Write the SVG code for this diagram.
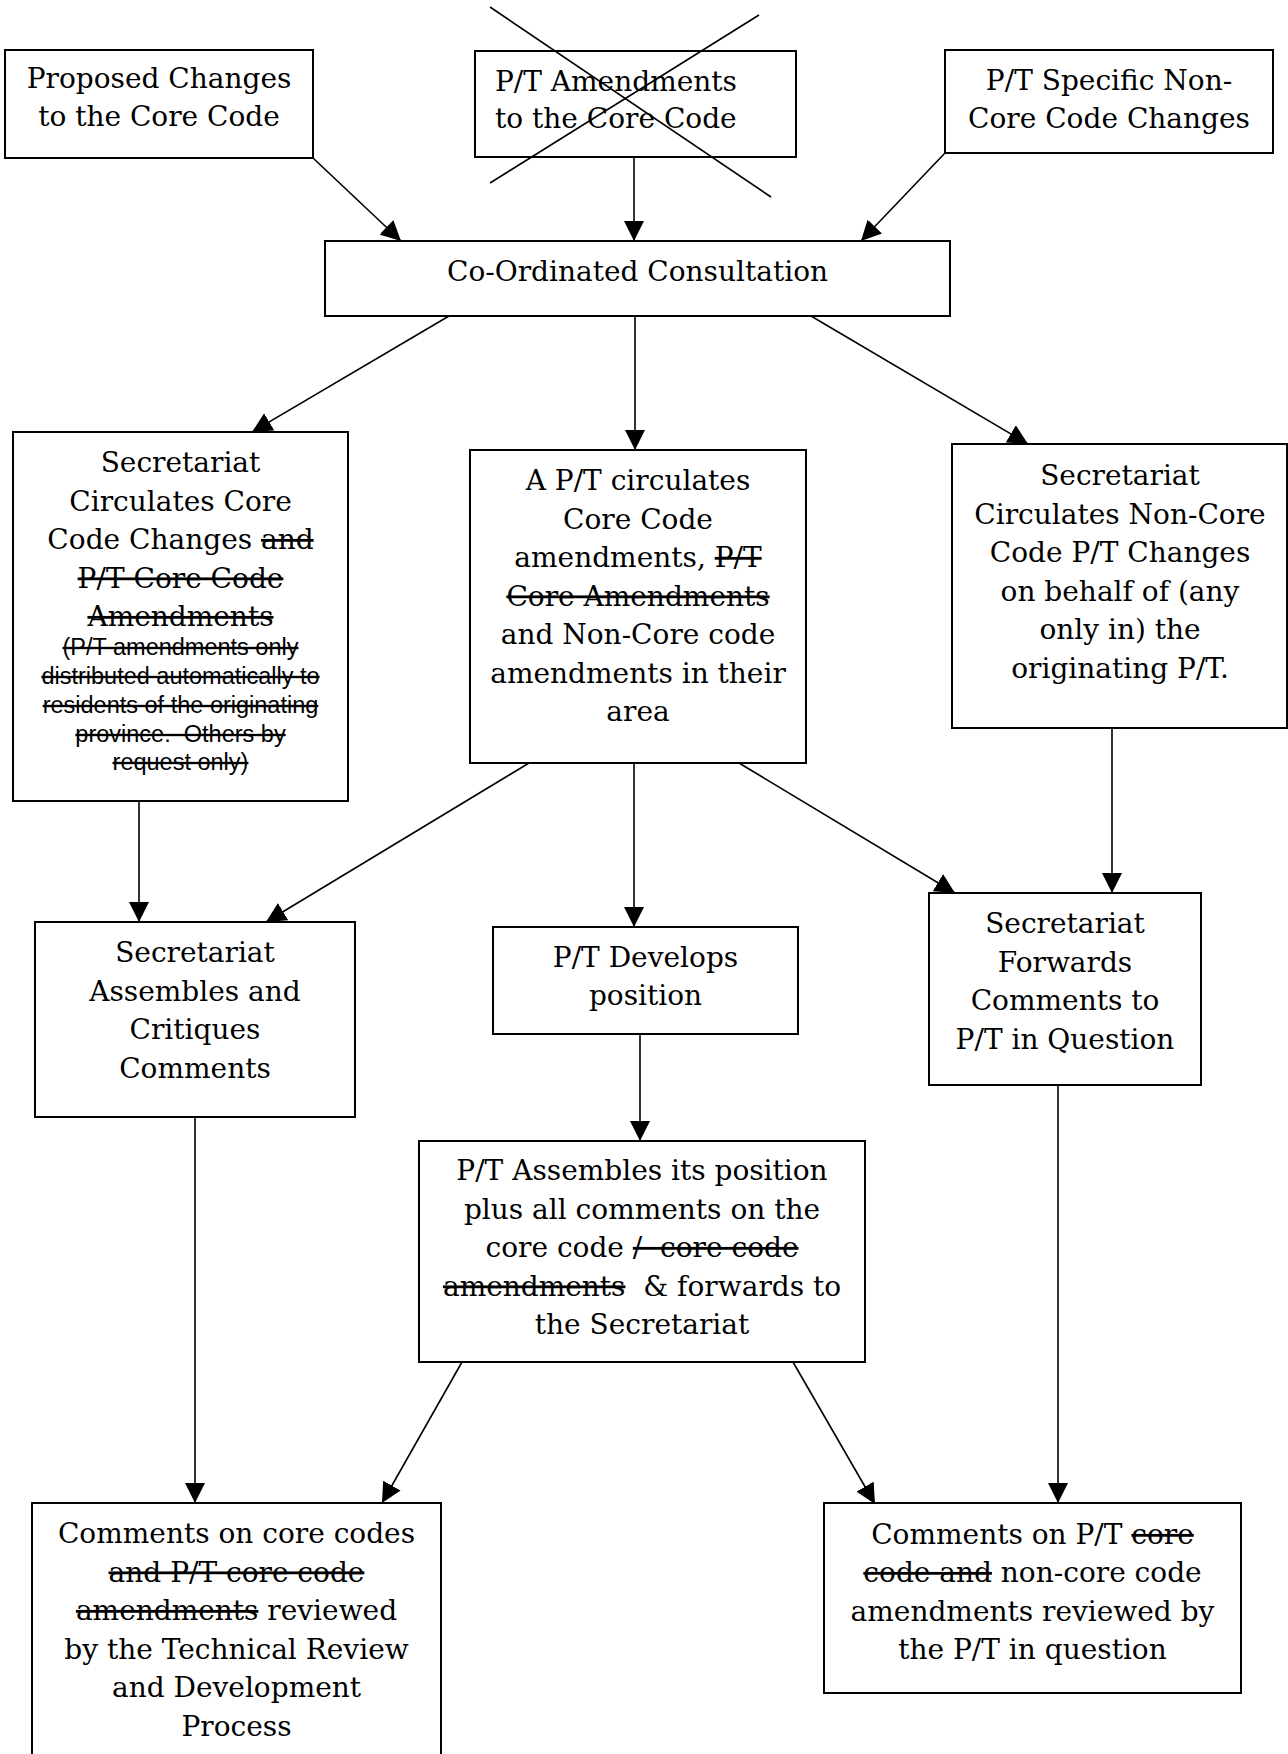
<svg xmlns="http://www.w3.org/2000/svg" width="1288" height="1754" viewBox="0 0 1288 1754">
<style>
.box{fill:#fff;stroke:#000;stroke-width:2}
.t{font-family:"DejaVu Serif","Liberation Serif",serif;font-size:28px;fill:#000;text-anchor:middle}
.tl{font-family:"DejaVu Serif","Liberation Serif",serif;font-size:28px;fill:#000}
.s{font-family:"Liberation Sans",Arial,sans-serif;font-size:23.5px;fill:#000;text-anchor:middle;text-decoration:line-through}
.st{text-decoration:line-through}
.c{stroke:#000;stroke-width:1.6;fill:none;marker-end:url(#ah)}
.x{stroke:#000;stroke-width:1.6}
</style>
<defs>
<marker id="ah" markerUnits="userSpaceOnUse" markerWidth="20" markerHeight="20" refX="20" refY="10" orient="auto" viewBox="0 0 20 20">
<path d="M0,0 L20,10 L0,20 Z" fill="#000"/>
</marker>
</defs>
<rect width="1288" height="1754" fill="#fff"/>

<g id="connectors">
<line class="c" x1="313" y1="158" x2="401" y2="241"/>
<line class="c" x1="634" y1="157" x2="634" y2="241"/>
<line class="c" x1="945" y1="153" x2="861" y2="241"/>
<line class="c" x1="449" y1="316" x2="252" y2="432"/>
<line class="c" x1="635" y1="316" x2="635" y2="450"/>
<line class="c" x1="811" y1="316" x2="1028" y2="444"/>
<line class="c" x1="139" y1="801" x2="139" y2="922"/>
<line class="c" x1="529" y1="763" x2="266" y2="922"/>
<line class="c" x1="634" y1="763" x2="634" y2="927"/>
<line class="c" x1="739" y1="763" x2="955" y2="893"/>
<line class="c" x1="1112" y1="728" x2="1112" y2="893"/>
<line class="c" x1="640" y1="1034" x2="640" y2="1141"/>
<line class="c" x1="195" y1="1117" x2="195" y2="1503"/>
<line class="c" x1="462" y1="1362" x2="382" y2="1503"/>
<line class="c" x1="793" y1="1362" x2="875" y2="1504"/>
<line class="c" x1="1058" y1="1085" x2="1058" y2="1503"/>
</g>

<g id="n-proposed">
<rect class="box" x="5" y="50" width="308" height="108"/>
<text class="t" x="159" y="88">Proposed Changes</text>
<text class="t" x="159" y="126">to the Core Code</text>
</g>

<g id="n-pt-amendments">
<rect class="box" x="475" y="51" width="321" height="106"/>
<text class="tl" x="495" y="91">P/T Amendments</text>
<text class="tl" x="495" y="128">to the Core Code</text>
<line class="x" x1="490" y1="7" x2="771" y2="197"/>
<line class="x" x1="490" y1="183" x2="759" y2="15"/>
</g>

<g id="n-specific">
<rect class="box" x="945" y="50" width="328" height="103"/>
<text class="t" x="1109" y="90">P/T Specific Non-</text>
<text class="t" x="1109" y="128">Core Code Changes</text>
</g>

<g id="n-consultation">
<rect class="box" x="325" y="241" width="625" height="75"/>
<text class="t" x="637.5" y="281">Co-Ordinated Consultation</text>
</g>

<g id="n-sec-core">
<rect class="box" x="13" y="432" width="335" height="369"/>
<text class="t" x="180.5" y="472">Secretariat</text>
<text class="t" x="180.5" y="510.5">Circulates Core</text>
<text class="t" x="180.5" y="549">Code Changes <tspan class="st">and</tspan></text>
<text class="t" x="180.5" y="587.5"><tspan class="st">P/T Core Code</tspan></text>
<text class="t" x="180.5" y="626"><tspan class="st">Amendments</tspan></text>
<text class="s" x="180.5" y="655">(P/T amendments only</text>
<text class="s" x="180.5" y="684">distributed automatically to</text>
<text class="s" x="180.5" y="713">residents of the originating</text>
<text class="s" x="180.5" y="742" xml:space="preserve">province.  Others by</text>
<text class="s" x="180.5" y="770">request only)</text>
</g>

<g id="n-pt-circulates">
<rect class="box" x="470" y="450" width="336" height="313"/>
<text class="t" x="638" y="490">A P/T circulates</text>
<text class="t" x="638" y="528.5">Core Code</text>
<text class="t" x="638" y="567">amendments, <tspan class="st">P/T</tspan></text>
<text class="t" x="638" y="605.5"><tspan class="st">Core Amendments</tspan></text>
<text class="t" x="638" y="644">and Non-Core code</text>
<text class="t" x="638" y="682.5">amendments in their</text>
<text class="t" x="638" y="721">area</text>
</g>

<g id="n-sec-noncore">
<rect class="box" x="952" y="444" width="335" height="284"/>
<text class="t" x="1120" y="485">Secretariat</text>
<text class="t" x="1120" y="523.5">Circulates Non-Core</text>
<text class="t" x="1120" y="562">Code P/T Changes</text>
<text class="t" x="1120" y="600.5">on behalf of (any</text>
<text class="t" x="1120" y="639">only in) the</text>
<text class="t" x="1120" y="677.5">originating P/T.</text>
</g>

<g id="n-sec-assembles">
<rect class="box" x="35" y="922" width="320" height="195"/>
<text class="t" x="195" y="962">Secretariat</text>
<text class="t" x="195" y="1000.5">Assembles and</text>
<text class="t" x="195" y="1039">Critiques</text>
<text class="t" x="195" y="1077.5">Comments</text>
</g>

<g id="n-pt-develops">
<rect class="box" x="493" y="927" width="305" height="107"/>
<text class="t" x="645.5" y="967">P/T Develops</text>
<text class="t" x="645.5" y="1005">position</text>
</g>

<g id="n-sec-forwards">
<rect class="box" x="929" y="893" width="272" height="192"/>
<text class="t" x="1065" y="933">Secretariat</text>
<text class="t" x="1065" y="971.5">Forwards</text>
<text class="t" x="1065" y="1010">Comments to</text>
<text class="t" x="1065" y="1048.5">P/T in Question</text>
</g>

<g id="n-pt-assembles">
<rect class="box" x="419" y="1141" width="446" height="221"/>
<text class="t" x="642" y="1180">P/T Assembles its position</text>
<text class="t" x="642" y="1218.5">plus all comments on the</text>
<text class="t" x="642" y="1257" xml:space="preserve">core code <tspan class="st">/  core code</tspan></text>
<text class="t" x="642" y="1295.5" xml:space="preserve"><tspan class="st">amendments</tspan>  &amp; forwards to</text>
<text class="t" x="642" y="1334">the Secretariat</text>
</g>

<g id="n-comments-core">
<rect class="box" x="32" y="1503" width="409" height="270"/>
<text class="t" x="236.5" y="1543">Comments on core codes</text>
<text class="t" x="236.5" y="1581.5"><tspan class="st">and P/T core code</tspan></text>
<text class="t" x="236.5" y="1620"><tspan class="st">amendments</tspan> reviewed</text>
<text class="t" x="236.5" y="1658.5">by the Technical Review</text>
<text class="t" x="236.5" y="1697">and Development</text>
<text class="t" x="236.5" y="1735.5">Process</text>
</g>

<g id="n-comments-pt">
<rect class="box" x="824" y="1503" width="417" height="190"/>
<text class="t" x="1032.5" y="1544">Comments on P/T <tspan class="st">core</tspan></text>
<text class="t" x="1032.5" y="1582"><tspan class="st">code and</tspan> non-core code</text>
<text class="t" x="1032.5" y="1620.5">amendments reviewed by</text>
<text class="t" x="1032.5" y="1659">the P/T in question</text>
</g>
</svg>
